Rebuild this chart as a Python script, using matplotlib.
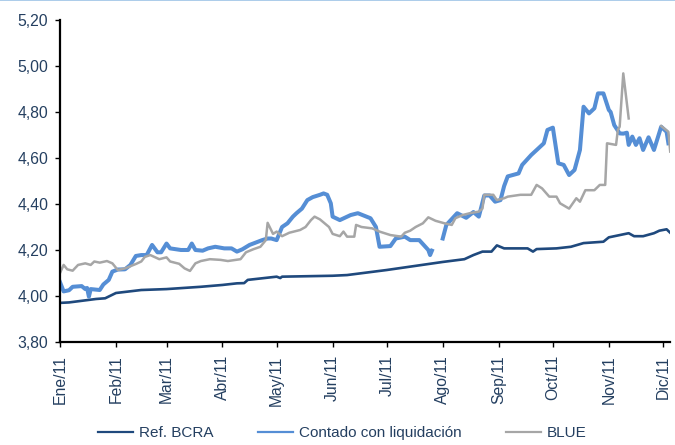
import matplotlib
matplotlib.use("Agg")
import matplotlib.pyplot as plt
from matplotlib.lines import Line2D
from matplotlib.ticker import FuncFormatter
import pandas as pd
import numpy as np

plt.rcParams['font.family'] = ['Liberation Sans', 'DejaVu Sans']

# Ref. BCRA
bcra_dates = ["2011-01-01", "2011-01-06", "2011-01-21", "2011-01-26", "2011-02-01", "2011-02-15",
              "2011-03-01", "2011-03-20", "2011-04-01", "2011-04-09", "2011-04-13", "2011-04-15",
              "2011-05-01", "2011-05-03", "2011-05-04", "2011-06-01", "2011-06-09", "2011-07-01",
              "2011-08-01", "2011-08-13", "2011-08-18", "2011-08-23", "2011-08-28", "2011-08-31",
              "2011-09-04", "2011-09-17", "2011-09-20", "2011-09-22", "2011-10-03", "2011-10-11",
              "2011-10-18", "2011-10-29", "2011-11-01", "2011-11-12", "2011-11-15", "2011-11-20",
              "2011-11-26", "2011-11-29", "2011-12-03", "2011-12-05"]
bcra_vals = [3.970, 3.972, 3.987, 3.990, 4.013, 4.026,
             4.030, 4.040, 4.048, 4.055, 4.056, 4.070,
             4.084, 4.078, 4.084, 4.088, 4.091, 4.113,
             4.148, 4.160, 4.178, 4.193, 4.193, 4.220,
             4.207, 4.207, 4.193, 4.204, 4.207, 4.214,
             4.230, 4.236, 4.255, 4.273, 4.260, 4.260,
             4.273, 4.284, 4.290, 4.275]

# Contado con liquidación (NaN = gap)
ccl_dates = ["2011-01-01", "2011-01-03", "2011-01-06", "2011-01-08", "2011-01-13", "2011-01-15",
             "2011-01-16", "2011-01-17", "2011-01-18", "2011-01-23", "2011-01-25", "2011-01-28",
             "2011-01-30", "2011-02-02", "2011-02-06", "2011-02-09", "2011-02-12", "2011-02-15",
             "2011-02-18", "2011-02-21", "2011-02-24", "2011-02-26", "2011-03-01", "2011-03-03",
             "2011-03-09", "2011-03-13", "2011-03-15", "2011-03-17", "2011-03-21", "2011-03-24",
             "2011-03-28", "2011-04-02", "2011-04-06", "2011-04-09", "2011-04-12", "2011-04-16",
             "2011-04-23", "2011-04-26", "2011-04-28", "2011-05-01", "2011-05-04", "2011-05-07",
             "2011-05-10", "2011-05-12", "2011-05-15", "2011-05-18", "2011-05-21", "2011-05-25",
             "2011-05-27", "2011-05-29", "2011-05-31", "2011-06-01", "2011-06-05", "2011-06-11",
             "2011-06-15", "2011-06-22", "2011-06-25", "2011-06-27", "2011-07-03", "2011-07-06",
             "2011-07-11", "2011-07-14", "2011-07-19", "2011-07-24", "2011-07-25", "2011-07-26",
             "2011-07-29",
             "2011-08-01", "2011-08-03", "2011-08-09", "2011-08-14", "2011-08-18", "2011-08-21",
             "2011-08-24", "2011-08-27", "2011-08-30", "2011-09-02", "2011-09-04", "2011-09-06",
             "2011-09-12", "2011-09-14", "2011-09-19", "2011-09-23", "2011-09-26", "2011-09-28",
             "2011-10-01", "2011-10-04", "2011-10-07", "2011-10-10", "2011-10-13", "2011-10-16",
             "2011-10-18", "2011-10-21", "2011-10-24", "2011-10-26", "2011-10-29", "2011-11-01",
             "2011-11-02", "2011-11-04", "2011-11-07", "2011-11-09", "2011-11-11", "2011-11-12",
             "2011-11-14", "2011-11-16", "2011-11-18", "2011-11-20", "2011-11-23", "2011-11-26",
             "2011-11-30", "2011-12-03", "2011-12-04"]
ccl_vals = [4.060, 4.020, 4.025, 4.040, 4.043, 4.030,
            4.035, 3.997, 4.030, 4.026, 4.050, 4.070,
            4.106, 4.115, 4.116, 4.135, 4.174, 4.178,
            4.178, 4.222, 4.190, 4.190, 4.228, 4.207,
            4.200, 4.200, 4.228, 4.200, 4.197, 4.207,
            4.214, 4.207, 4.207, 4.193, 4.203, 4.222,
            4.243, 4.250, 4.250, 4.243, 4.300, 4.316,
            4.345, 4.360, 4.380, 4.417, 4.430, 4.440,
            4.446, 4.440, 4.403, 4.345, 4.330, 4.352,
            4.360, 4.338, 4.300, 4.214, 4.217, 4.250,
            4.258, 4.243, 4.243, 4.200, 4.178, 4.197,
            np.nan,
            4.250, 4.309, 4.360, 4.340, 4.365, 4.345,
            4.437, 4.437, 4.410, 4.417, 4.478, 4.520,
            4.533, 4.570, 4.613, 4.642, 4.664, 4.722,
            4.732, 4.577, 4.570, 4.526, 4.548, 4.635,
            4.823, 4.794, 4.816, 4.881, 4.881, 4.809,
            4.800, 4.743, 4.707, 4.706, 4.710, 4.657,
            4.693, 4.657, 4.686, 4.635, 4.690, 4.635,
            4.736, 4.714, 4.664]

# BLUE (NaN = gap)
blue_dates = ["2011-01-01", "2011-01-03", "2011-01-05", "2011-01-08", "2011-01-11", "2011-01-15",
              "2011-01-18", "2011-01-20", "2011-01-23", "2011-01-27", "2011-01-30", "2011-02-02",
              "2011-02-06", "2011-02-12", "2011-02-15", "2011-02-17", "2011-02-20", "2011-02-25",
              "2011-03-01", "2011-03-03", "2011-03-08", "2011-03-11", "2011-03-14", "2011-03-17",
              "2011-03-20", "2011-03-25", "2011-03-31", "2011-04-04", "2011-04-11", "2011-04-14",
              "2011-04-18", "2011-04-22", "2011-04-25", "2011-04-26", "2011-04-29", "2011-05-01",
              "2011-05-04", "2011-05-08", "2011-05-14", "2011-05-17", "2011-05-20", "2011-05-22",
              "2011-05-25", "2011-05-30", "2011-06-01", "2011-06-05", "2011-06-07", "2011-06-09",
              "2011-06-13", "2011-06-14", "2011-06-17", "2011-06-23", "2011-06-27", "2011-07-03",
              "2011-07-09", "2011-07-11", "2011-07-14", "2011-07-17", "2011-07-21", "2011-07-24",
              "2011-07-28", "2011-08-02", "2011-08-06", "2011-08-08", "2011-08-12", "2011-08-16",
              "2011-08-21", "2011-08-23", "2011-08-24", "2011-08-29", "2011-08-31", "2011-09-04",
              "2011-09-06", "2011-09-13", "2011-09-19", "2011-09-22", "2011-09-25", "2011-09-29",
              "2011-10-03", "2011-10-05", "2011-10-10", "2011-10-14", "2011-10-16", "2011-10-19",
              "2011-10-24", "2011-10-27", "2011-10-30", "2011-10-31", "2011-11-05", "2011-11-06",
              "2011-11-07", "2011-11-09", "2011-11-12", "2011-11-20", "2011-11-30", "2011-12-04",
              "2011-12-05"]
blue_vals = [4.100, 4.135, 4.116, 4.110, 4.135, 4.142,
             4.135, 4.150, 4.145, 4.152, 4.142, 4.113,
             4.120, 4.139, 4.150, 4.170, 4.178, 4.160,
             4.168, 4.150, 4.140, 4.120, 4.109, 4.142,
             4.152, 4.160, 4.157, 4.152, 4.160, 4.190,
             4.203, 4.214, 4.243, 4.318, 4.270, 4.280,
             4.260, 4.275, 4.287, 4.300, 4.330, 4.345,
             4.333, 4.300, 4.270, 4.260, 4.280, 4.258,
             4.258, 4.309, 4.300, 4.294, 4.280, 4.265,
             4.258, 4.275, 4.284, 4.300, 4.316, 4.342,
             4.327, 4.316, 4.309, 4.338, 4.352, 4.360,
             4.367, 4.380, 4.440, 4.440, 4.417, 4.425,
             4.432, 4.440, 4.440, 4.483, 4.468, 4.432,
             4.432, 4.403, 4.380, 4.425, 4.410, 4.460,
             4.460, 4.483, 4.483, 4.664, 4.657, 4.722,
             4.736, 4.968, 4.772, np.nan, 4.739, 4.714,
             4.628]

legend_labels = ["Ref. BCRA", "Contado con liquidación", "BLUE"]
y_ticks = [3.80, 4.00, 4.20, 4.40, 4.60, 4.80, 5.00, 5.20]
month_labels = ["Ene/11", "Feb/11", "Mar/11", "Abr/11", "May/11", "Jun/11",
                "Jul/11", "Ago/11", "Sep/11", "Oct/11", "Nov/11", "Dic/11"]

text_color = '#243F60'
colors = ['#1F497D', '#558ED5', '#A6A6A6']

fig = plt.figure(figsize=(6.75, 4.45), dpi=100)
ax = fig.add_axes([0.0889, 0.2315, 0.904, 0.7235])

ax.plot(pd.to_datetime(bcra_dates), bcra_vals, color=colors[0], lw=1.9, label=legend_labels[0])
ax.plot(pd.to_datetime(ccl_dates), ccl_vals, color=colors[1], lw=2.9, label=legend_labels[1])
ax.plot(pd.to_datetime(blue_dates), blue_vals, color=colors[2], lw=1.8, label=legend_labels[2])

ax.set_ylim(3.80, 5.20)
ax.set_yticks(y_ticks)
ax.yaxis.set_major_formatter(FuncFormatter(lambda v, p: f"{v:.2f}".replace('.', ',')))
ax.set_xlim(pd.Timestamp("2011-01-01"), pd.Timestamp("2011-12-05"))
month_starts = pd.date_range("2011-01-01", periods=12, freq="MS")
ax.set_xticks(month_starts)
ax.set_xticklabels(month_labels, rotation=90)

for s in ['top', 'right']:
    ax.spines[s].set_visible(False)
for s in ['left', 'bottom']:
    ax.spines[s].set_linewidth(1.6)
    ax.spines[s].set_color('black')
ax.tick_params(axis='both', direction='out', length=3.5, width=1, color='black',
               labelcolor=text_color, labelsize=11.3)
ax.tick_params(axis='y', pad=5)
ax.tick_params(axis='x', pad=6)

handles = [Line2D([], [], color=c, lw=1.6) for c in colors]
fig.legend(handles, legend_labels, loc='center', bbox_to_anchor=(0.507, 0.027), ncol=3,
           frameon=False, fontsize=11, handlelength=2.3, columnspacing=2.9, handletextpad=0.4,
           labelcolor=text_color)

fig.add_artist(Line2D([0, 1], [0.999, 0.999], transform=fig.transFigure, color='#9DC3E6', lw=1.2))

fig.savefig("out.png", dpi=100)
